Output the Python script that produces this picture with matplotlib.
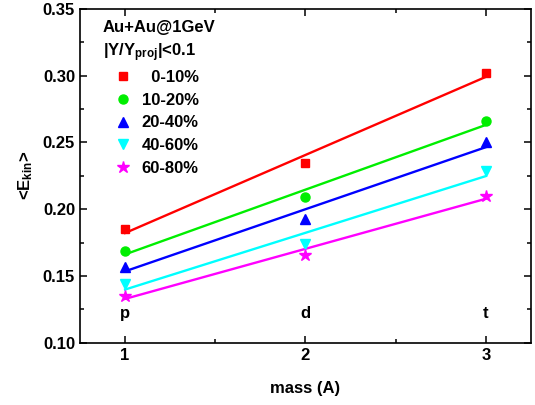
import numpy as np
import matplotlib
matplotlib.use('Agg')
import matplotlib.pyplot as plt
from matplotlib.ticker import MultipleLocator

plt.rcParams['font.family'] = ['Liberation Sans', 'DejaVu Sans']
plt.rcParams['font.weight'] = 'bold'
plt.rcParams['mathtext.fontset'] = 'custom'
plt.rcParams['mathtext.rm'] = 'Liberation Sans:bold'
plt.rcParams['mathtext.it'] = 'Liberation Sans:bold'
plt.rcParams['mathtext.bf'] = 'Liberation Sans:bold'

# data
mass = [1, 2, 3]
particles = ['p', 'd', 't']
labels = ['  0-10%', '10-20%', '20-40%', '40-60%', '60-80%']
e_0_10 = [0.185, 0.235, 0.302]
e_10_20 = [0.169, 0.209, 0.266]
e_20_40 = [0.157, 0.193, 0.250]
e_40_60 = [0.144, 0.174, 0.229]
e_60_80 = [0.135, 0.166, 0.210]

series = [e_0_10, e_10_20, e_20_40, e_40_60, e_60_80]
colors = ['#ff0000', '#00ee00', '#0000ff', '#00ffff', '#ff00ff']
markers = ['s', 'o', '^', 'v', '*']
msizes = [5.5, 6.5, 6.5, 6.5, 9]

fs = 12
fig = plt.figure(figsize=(5.35, 4.05), dpi=100)
ax = fig.add_axes([0.1495, 0.1538, 0.843, 0.824])

x = np.array(mass)
handles = []
for y, c, m, ms, lab in zip(series, colors, markers, msizes, labels):
    k, b = np.polyfit(x, y, 1)
    ax.plot(x, k * x + b, color=c, lw=1.7, zorder=2)
    h, = ax.plot(x, y, ls='none', marker=m, ms=ms, color=c, mec=c, zorder=3, label=lab)
    handles.append(h)

for xi, p in zip(mass, particles):
    ax.text(xi, 0.122, p, ha='center', va='center', fontsize=fs, fontweight='bold')

ax.text(0.051, 0.945, 'Au+Au@1GeV', transform=ax.transAxes, fontsize=fs,
        fontweight='bold', va='center')
ax.text(0.051, 0.868, r'|Y/Y$_{proj}$|<0.1', transform=ax.transAxes, fontsize=fs,
        fontweight='bold', va='center')
ax.legend(handles=handles, loc='upper left', bbox_to_anchor=(0.078, 0.818),
          frameon=False, fontsize=fs, handlelength=1.0, handletextpad=0.6,
          labelspacing=0.47, borderaxespad=0, borderpad=0, numpoints=1)

ax.set_xlim(0.75, 3.25)
ax.set_ylim(0.10, 0.35)
ax.xaxis.set_major_locator(MultipleLocator(1))
ax.xaxis.set_minor_locator(MultipleLocator(0.5))
ax.yaxis.set_major_locator(MultipleLocator(0.05))
ax.yaxis.set_minor_locator(MultipleLocator(0.025))
ax.yaxis.set_major_formatter(plt.FormatStrFormatter('%.2f'))
ax.tick_params(which='both', direction='in', top=True, right=True, width=1.1,
               labelsize=fs)
ax.tick_params(which='major', length=5)
ax.tick_params(which='minor', length=3)
for s in ax.spines.values():
    s.set_linewidth(1.2)

ax.set_xlabel('mass (A)', fontsize=fs, fontweight='bold', labelpad=13)
ax.set_ylabel('<E$_{kin}$>', fontsize=fs, fontweight='bold', labelpad=6)

fig.savefig('out.png', dpi=100)
